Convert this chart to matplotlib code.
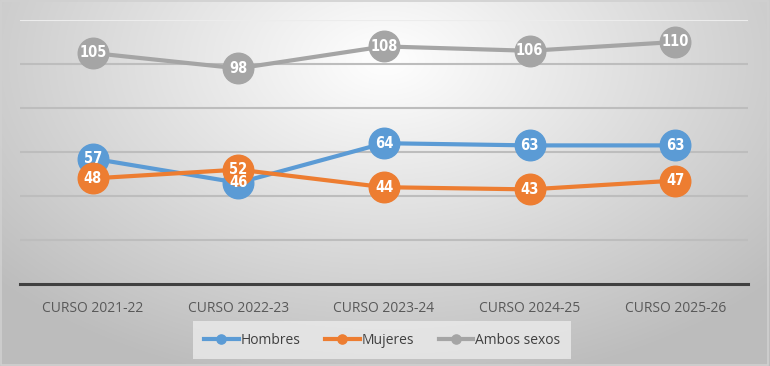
import numpy as np
import matplotlib.pyplot as plt
from matplotlib.patches import Rectangle

# datos
cursos = ['CURSO 2021-22', 'CURSO 2022-23', 'CURSO 2023-24', 'CURSO 2024-25', 'CURSO 2025-26']
hombres = [57, 46, 64, 63, 63]
mujeres = [48, 52, 44, 43, 47]
ambos = [105, 98, 108, 106, 110]

series = [('Hombres', hombres, '#5b9bd5'),
          ('Mujeres', mujeres, '#ed7d31'),
          ('Ambos sexos', ambos, '#a5a5a5')]

plt.rcParams['font.family'] = ['Open Sans', 'DejaVu Sans']

fig = plt.figure(figsize=(7.7, 3.66), dpi=100)

# fondo con degradado radial
bg = fig.add_axes([0, 0, 1, 1], zorder=-10)
yy, xx = np.mgrid[0:366, 0:770]
r = np.sqrt(((xx - 385) / 520.0) ** 2 + ((yy - 60) / 330.0) ** 2)
g = np.clip(1.0 - 0.26 * r, 0.74, 1.0)
bg.imshow(np.dstack([g, g, g]), aspect='auto', extent=[0, 1, 0, 1], origin='upper')
bg.add_patch(Rectangle((0.001, 0.002), 0.997, 0.995, fill=False, ec='#d0d0d0', lw=1.2,
                       transform=bg.transAxes))
bg.axis('off')

ax = fig.add_axes([20 / 770, 1 - 284 / 366, 728 / 770, 264 / 366])
ax.patch.set_alpha(0)
x = np.arange(len(cursos))

for nombre, vals, col in series:
    ax.plot(x, vals, '-o', color=col, lw=3, ms=22, label=nombre, zorder=3)
    for xi, v in zip(x, vals):
        ax.text(xi, v, str(v), color='white', ha='center', va='center', fontsize=10.5,
                fontweight='bold', family='DejaVu Sans', fontstretch='condensed', zorder=4)

ax.set_xlim(-0.5, 4.5)
ax.set_ylim(0, 120)
for yv in range(20, 101, 20):
    ax.axhline(yv, color='#bdbdbd', lw=1.5, zorder=1)
ax.axhline(120, color='#ececec', lw=1.5, zorder=1)
ax.tick_params(axis='y', left=False, labelleft=False)
ax.tick_params(axis='x', length=0, pad=12, labelsize=10, labelcolor='#595959')
ax.set_xticks(x)
ax.set_xticklabels(cursos)
for s in ['top', 'left', 'right']:
    ax.spines[s].set_visible(False)
ax.spines['bottom'].set_color('#404040')
ax.spines['bottom'].set_linewidth(2.2)

leg = fig.legend(loc='center', bbox_to_anchor=(382 / 770, 1 - 340 / 366), ncol=3,
                 frameon=True, fontsize=10, markerscale=0.3, handlelength=2.5,
                 handletextpad=0.1, columnspacing=1.8, borderpad=0.5)
leg.get_frame().set_facecolor('#ebebeb')
leg.get_frame().set_edgecolor('none')
leg.get_frame().set_boxstyle('square')
for t in leg.get_texts():
    t.set_color('#404040')

fig.savefig('out.png', dpi=100)
